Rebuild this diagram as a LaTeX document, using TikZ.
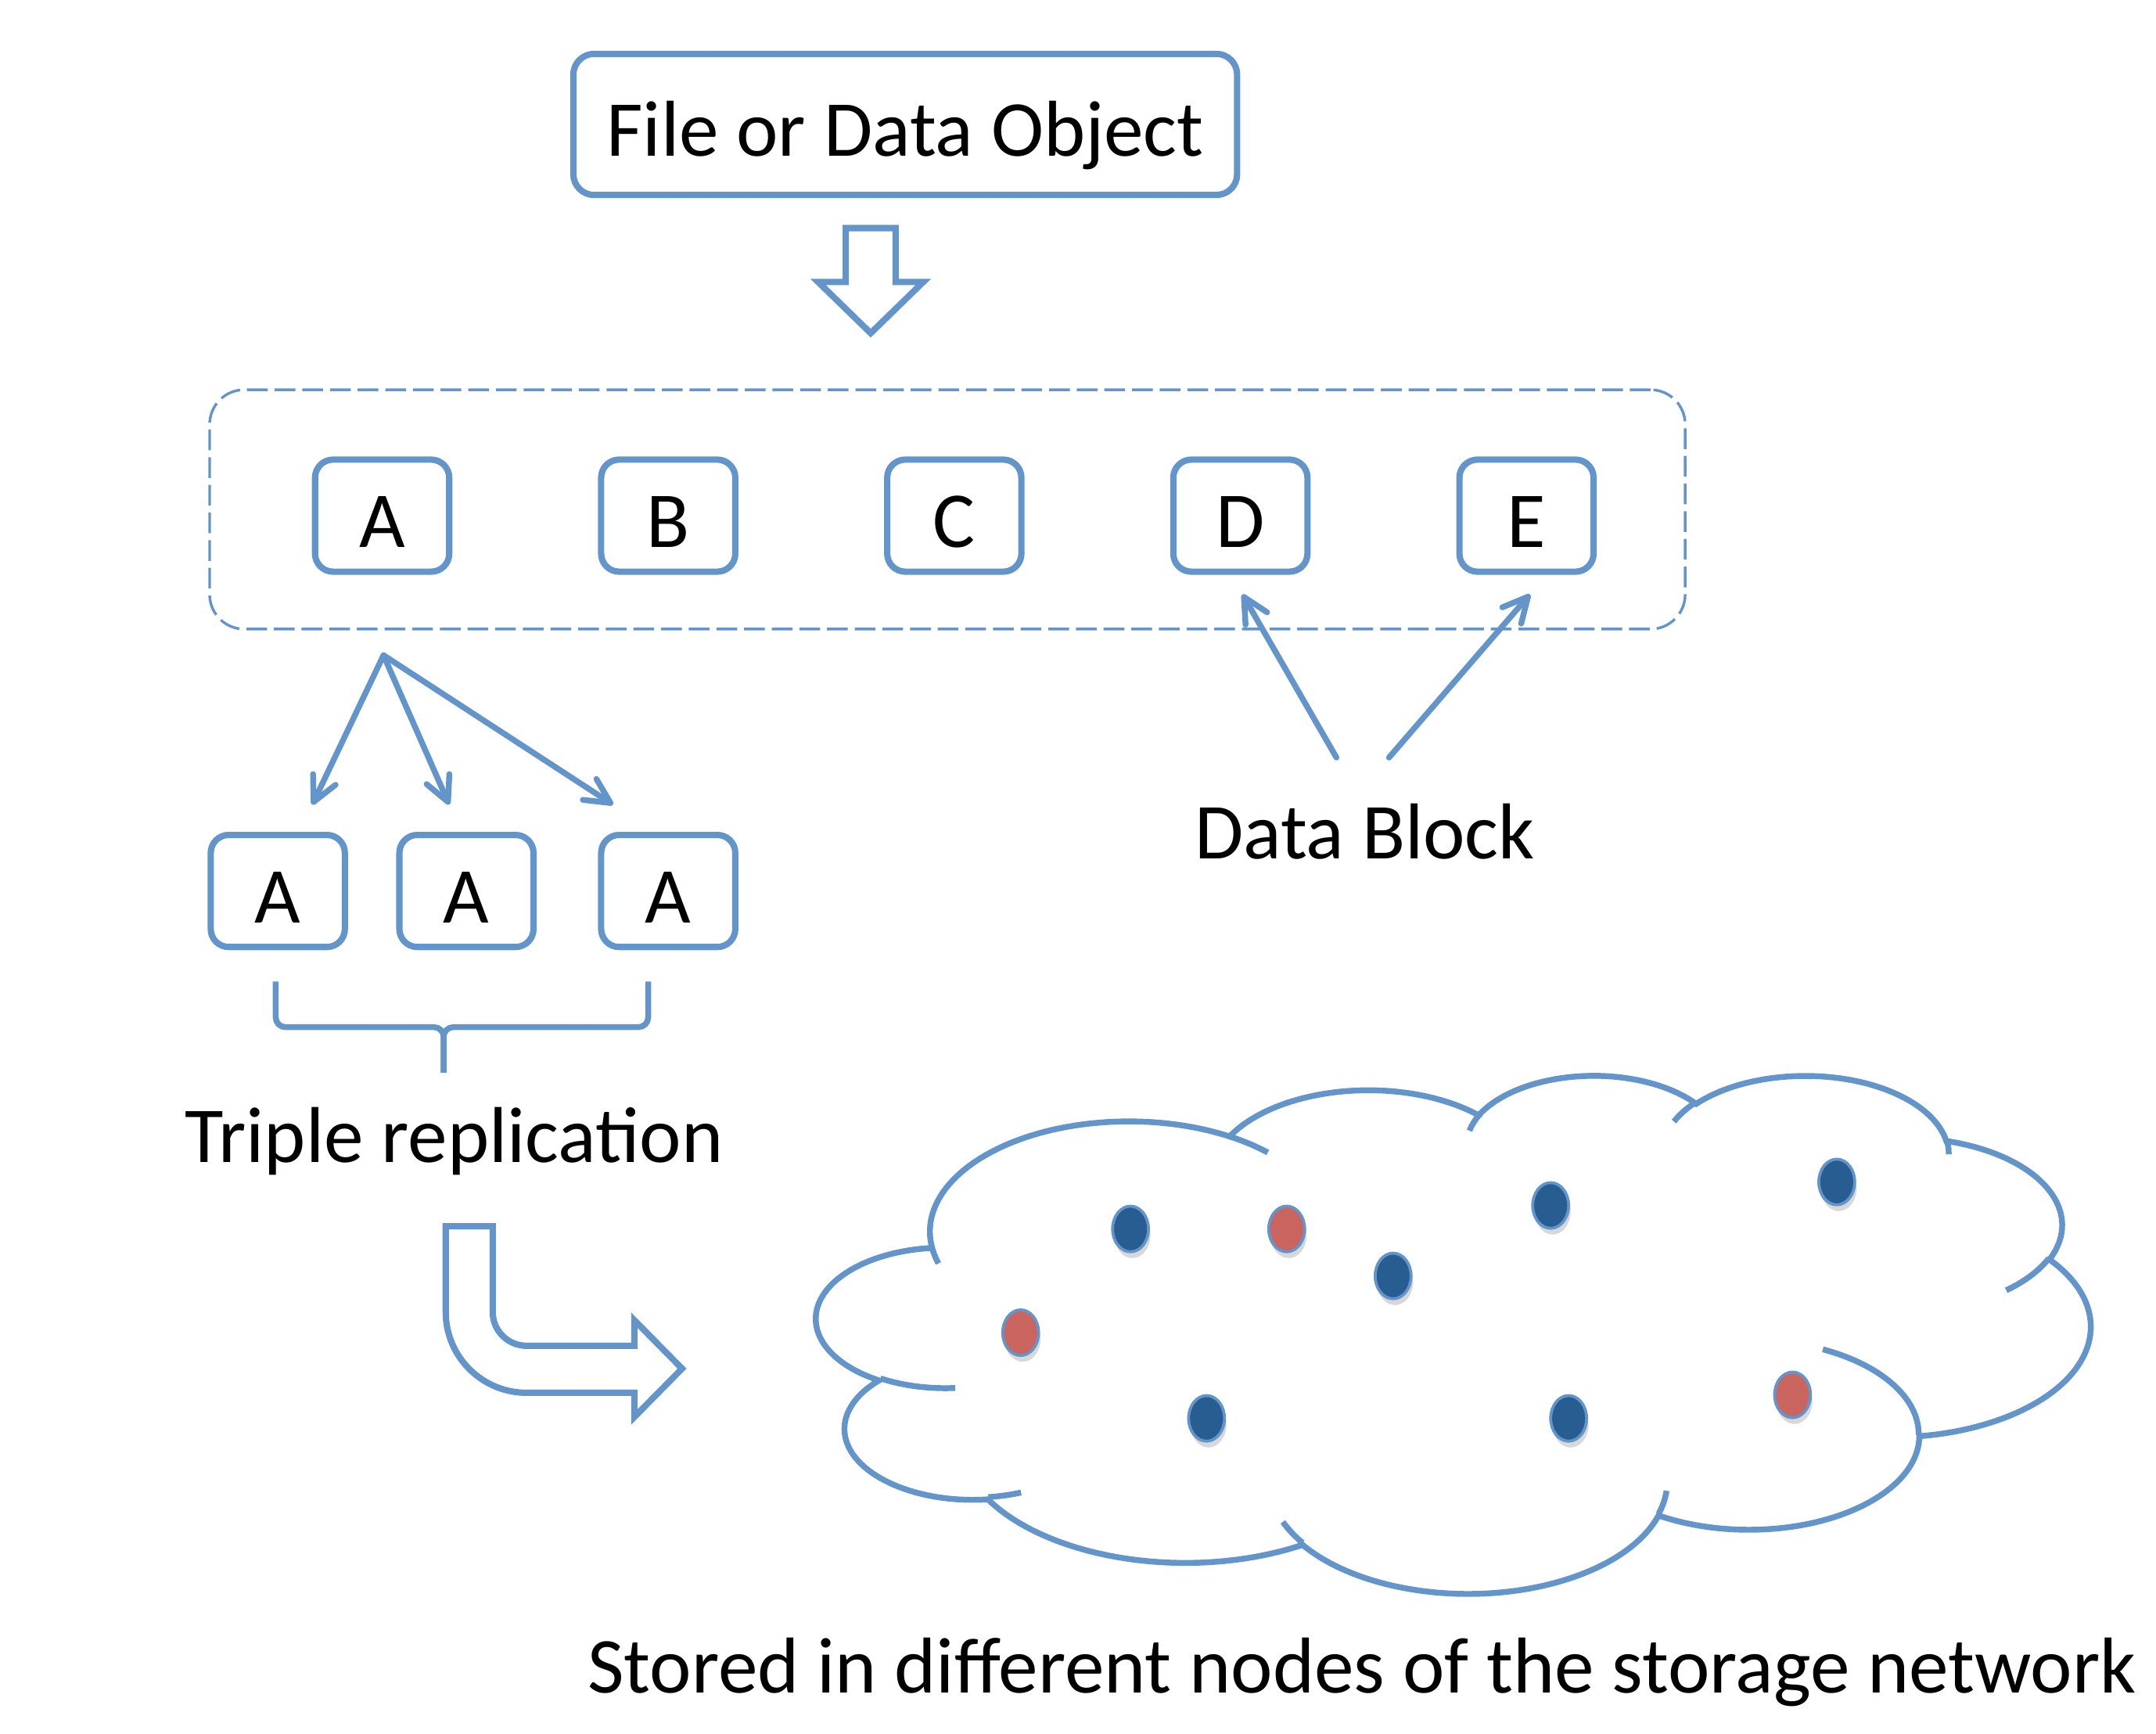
\documentclass[tikz,border=0pt]{standalone}
\usepackage{fontspec}
\setmainfont{Carlito}
\usetikzlibrary{arrows.meta,shadows}

\definecolor{lineblue}{RGB}{99,149,202}
\definecolor{dotblue}{RGB}{40,93,145}
\definecolor{dotred}{RGB}{201,101,94}

% one lobe of the cloud: radii, start angle and sweep as the drawing program gives them
\newcommand{\cloudarc}[4]{arc[x radius=#1, y radius=#2,
  start angle={atan2(#1*sin(#3),#2*cos(#3))},
  delta angle={mod(atan2(#1*sin(#3+#4),#2*cos(#3+#4))-atan2(#1*sin(#3),#2*cos(#3))+720,360)}]}

\begin{document}
\begin{tikzpicture}[x=0.01cm,y=-0.01cm,
    every node/.style={font=\fontsize{16.3pt}{19pt}\selectfont},
    box/.style={draw=lineblue,line width=1.3pt,rounded corners=1.3mm,minimum width=9.7mm,minimum height=8.1mm,inner sep=0pt,text height=13pt,text depth=0pt},
    txt/.style={inner sep=0pt,text height=10.3pt,text depth=0pt},
    arr/.style={lineblue,line width=1.2pt,line cap=round,-{Straight Barb[length=1.8mm,width=1.8mm,round]}},
    hollow/.style={draw=lineblue,line width=1.3pt,fill=white},
    dot/.style={draw=lineblue,line width=0.6pt,drop shadow={shadow xshift=0.4pt,shadow yshift=-1.3pt,opacity=0.3}}]
    \useasboundingbox (0,0) rectangle (1560,1254);

    \node[box,minimum width=48mm,minimum height=10.2mm,rounded corners=1.5mm] (object) at (655,90) {File or Data Object};
    \draw[hollow] (612,165) -- (648,165) -- (648,204) -- (668,204) -- (630,241) -- (592,204) -- (612,204) -- cycle;

    %blocks
    \node[draw=lineblue,line width=0.55pt,dash pattern=on 1.5mm off 0.5mm,rounded corners=2.5mm,minimum width=106.7mm,minimum height=17.3mm] (blocks) at (685.5,368.5) {};
    \node[box] (A) at (276.5,373) {A};
    \node[box] (B) at (483.5,373) {B};
    \node[box] (C) at (690.5,373) {C};
    \node[box] (D) at (897.5,373) {D};
    \node[box] (E) at (1104.5,373) {E};

    %replicas
    \node[box] (A1) at (201,644.5) {A};
    \node[box] (A2) at (337.5,644.5) {A};
    \node[box] (A3) at (483.5,644.5) {A};
    \coordinate (split) at (277.5,474);
    \coordinate (A1 tip) at (226,582);
    \coordinate (A2 tip) at (325,582);
    \coordinate (A3 tip) at (443.5,582);
    \draw[arr] (split) -- (A1 tip);
    \draw[arr] (split) -- (A2 tip);
    \draw[arr] (split) -- (A3 tip);

    \node[txt] (block label) at (987.5,603) {Data Block};
    \coordinate (D tail) at (967,548);
    \coordinate (E tail) at (1005,548);
    \coordinate (D tip) at (899,430);
    \coordinate (E tip) at (1107,430);
    \draw[arr] (D tail) -- (D tip);
    \draw[arr] (E tail) -- (E tip);

    %brace
    \draw[lineblue,line width=1.2pt,rounded corners=0.7mm] (199.5,710) -- (199.5,743) -- (321,743) -- (321,776);
    \draw[lineblue,line width=1.2pt,rounded corners=0.7mm] (469,710) -- (469,743) -- (321,743) -- (321,776);
    \node[txt] (triple) at (328.5,823) {Triple replication};

    \draw[hollow] (322.5,887) -- (356.5,887) -- (356.5,949) arc[start angle=180,end angle=90,radius=24.5]
        -- (459,973.5) -- (459,955) -- (493.5,990) -- (459,1025) -- (459,1007.5) -- (381,1007.5)
        arc[start angle=90,end angle=180,radius=58.5] -- cycle;

    %cloud
    \begin{scope}[shift={(591,777)},x=0.02132cm,y=-0.00866cm]
        \filldraw[draw=lineblue,fill=white,line width=1.2pt] (39.00,143.70)
            \cloudarc{67.53}{91.90}{-190.4875}{123.7805}
            \cloudarc{53.33}{72.67}{-144.1024}{89.9452}
            \cloudarc{43.65}{59.45}{-145.8079}{99.7230}
            \cloudarc{48.57}{65.95}{-130.9861}{117.2417}
            \cloudarc{53.33}{72.73}{-78.7089}{109.0269}
            \cloudarc{67.75}{92.20}{-46.2673}{130.2690}
            \cloudarc{57.85}{78.67}{0.6250}{114.0333}
            \cloudarc{67.52}{92.15}{22.4516}{115.1726}
            \cloudarc{77.20}{105.43}{66.2426}{75.7110}
            \cloudarc{43.60}{59.18}{-274.9421}{146.7356}
            \cloudarc{43.45}{59.45}{-246.8285}{152.5189} -- cycle;
        \draw[lineblue,line width=1.2pt]
            (46.93,261.77) \cloudarc{43.45}{59.45}{86.7420}{26.4295}
            (69.28,348.99) \cloudarc{43.60}{59.18}{73.6105}{11.4475}
            (164.78,390.90) \cloudarc{67.52}{92.15}{137.6242}{14.0811}
            (288.27,347.51) \cloudarc{67.52}{92.15}{6.4533}{15.9984}
            (341.29,229.54) \cloudarc{57.85}{78.67}{-70.2924}{70.9174}
            (417.98,153.54) \cloudarc{53.33}{72.73}{30.3180}{27.7515}
            (383.24,54.26) \cloudarc{48.57}{65.95}{-13.7443}{14.8589}
            (290.78,39.52) \cloudarc{48.57}{65.95}{-149.1815}{18.1954}
            (221.41,47.20) \cloudarc{43.65}{59.45}{-163.4943}{17.6864}
            (140.00,51.92) \cloudarc{67.53}{91.90}{-66.7070}{12.3194}
            (41.27,157.89) \cloudarc{67.53}{91.90}{157.6544}{11.8582};
    \end{scope}

    %nodes of the network
    \filldraw[dot,fill=dotblue] (818,889) ellipse [x radius=13,y radius=16.5];
    \filldraw[dot,fill=dotred] (931,889) ellipse [x radius=13,y radius=16.5];
    \filldraw[dot,fill=dotblue] (1008,923) ellipse [x radius=13,y radius=16.5];
    \filldraw[dot,fill=dotblue] (1122,872) ellipse [x radius=13,y radius=16.5];
    \filldraw[dot,fill=dotblue] (1329,855) ellipse [x radius=13,y radius=16.5];
    \filldraw[dot,fill=dotred] (738.5,964) ellipse [x radius=13,y radius=16.5];
    \filldraw[dot,fill=dotblue] (873,1026) ellipse [x radius=13,y radius=16.5];
    \filldraw[dot,fill=dotblue] (1135,1026) ellipse [x radius=13,y radius=16.5];
    \filldraw[dot,fill=dotred] (1297,1009) ellipse [x radius=13,y radius=16.5];

    \node[txt] (stored) at (985.5,1206.6) {Stored in different nodes of the storage network};
\end{tikzpicture}
\end{document}
